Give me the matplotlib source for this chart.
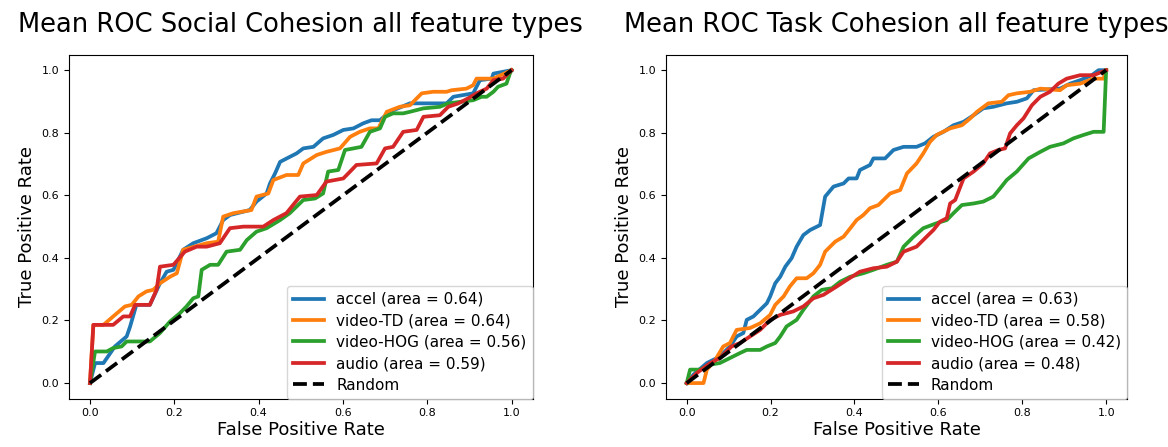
import matplotlib
matplotlib.use("Agg")
import matplotlib.pyplot as plt

# ROC points (fpr, tpr)
social_accel_fpr = [0, 0.012, 0.032, 0.059, 0.087, 0.095, 0.11, 0.142, 0.166, 0.182, 0.198, 0.221, 0.245, 0.277, 0.3, 0.316, 0.332, 0.379, 0.395, 0.419, 0.427, 0.439, 0.451, 0.474, 0.49, 0.506, 0.53, 0.553, 0.577, 0.601, 0.625, 0.648, 0.668, 0.688, 0.711, 0.759, 0.846, 0.862, 0.909, 0.925, 0.953, 0.957, 1.0]
social_accel_tpr = [0, 0.064, 0.064, 0.117, 0.149, 0.18, 0.25, 0.25, 0.319, 0.356, 0.362, 0.426, 0.447, 0.463, 0.479, 0.521, 0.537, 0.553, 0.58, 0.606, 0.638, 0.67, 0.707, 0.723, 0.734, 0.75, 0.755, 0.782, 0.793, 0.809, 0.814, 0.83, 0.84, 0.84, 0.867, 0.894, 0.894, 0.915, 0.926, 0.968, 0.973, 0.989, 1.0]

social_td_fpr = [0, 0.008, 0.032, 0.055, 0.083, 0.099, 0.115, 0.134, 0.15, 0.166, 0.19, 0.206, 0.221, 0.277, 0.304, 0.316, 0.34, 0.383, 0.395, 0.423, 0.435, 0.466, 0.494, 0.506, 0.538, 0.561, 0.593, 0.617, 0.64, 0.664, 0.684, 0.704, 0.735, 0.759, 0.787, 0.814, 0.846, 0.858, 0.893, 0.909, 0.917, 0.957, 1.0]
social_td_tpr = [0, 0.186, 0.186, 0.213, 0.245, 0.25, 0.277, 0.293, 0.298, 0.319, 0.34, 0.351, 0.426, 0.447, 0.452, 0.532, 0.543, 0.553, 0.596, 0.606, 0.649, 0.665, 0.665, 0.702, 0.729, 0.739, 0.75, 0.787, 0.803, 0.814, 0.814, 0.867, 0.883, 0.888, 0.926, 0.931, 0.931, 0.936, 0.941, 0.952, 0.973, 0.973, 1.0]

social_hog_fpr = [0, 0.012, 0.04, 0.055, 0.075, 0.087, 0.142, 0.166, 0.19, 0.213, 0.229, 0.245, 0.257, 0.265, 0.285, 0.304, 0.324, 0.356, 0.372, 0.395, 0.419, 0.451, 0.474, 0.506, 0.534, 0.553, 0.565, 0.589, 0.605, 0.625, 0.644, 0.664, 0.688, 0.7, 0.719, 0.743, 0.759, 0.791, 0.83, 0.85, 0.909, 0.929, 0.941, 0.957, 0.968, 0.988, 0.996, 1.0]
social_hog_tpr = [0, 0.101, 0.101, 0.112, 0.117, 0.133, 0.133, 0.16, 0.197, 0.223, 0.245, 0.271, 0.277, 0.362, 0.378, 0.378, 0.42, 0.426, 0.457, 0.484, 0.495, 0.521, 0.543, 0.585, 0.59, 0.606, 0.676, 0.681, 0.745, 0.75, 0.755, 0.803, 0.814, 0.851, 0.862, 0.862, 0.867, 0.878, 0.883, 0.894, 0.904, 0.915, 0.915, 0.931, 0.947, 0.957, 0.989, 1.0]

social_audio_fpr = [0, 0.008, 0.055, 0.079, 0.095, 0.107, 0.142, 0.158, 0.166, 0.198, 0.225, 0.253, 0.277, 0.308, 0.332, 0.364, 0.411, 0.435, 0.466, 0.498, 0.538, 0.561, 0.601, 0.617, 0.632, 0.68, 0.7, 0.719, 0.743, 0.775, 0.791, 0.83, 0.85, 0.874, 0.897, 0.917, 0.941, 0.957, 0.98, 1.0]
social_audio_tpr = [0, 0.186, 0.186, 0.213, 0.213, 0.25, 0.25, 0.298, 0.372, 0.378, 0.42, 0.436, 0.436, 0.447, 0.495, 0.5, 0.5, 0.521, 0.543, 0.596, 0.601, 0.644, 0.654, 0.676, 0.697, 0.702, 0.75, 0.755, 0.803, 0.809, 0.851, 0.856, 0.883, 0.894, 0.91, 0.926, 0.941, 0.968, 0.973, 1.0]

task_accel_fpr = [0, 0.016, 0.048, 0.079, 0.103, 0.119, 0.135, 0.143, 0.159, 0.175, 0.191, 0.199, 0.211, 0.223, 0.235, 0.25, 0.262, 0.278, 0.294, 0.318, 0.33, 0.35, 0.374, 0.386, 0.405, 0.413, 0.437, 0.445, 0.473, 0.493, 0.517, 0.548, 0.568, 0.588, 0.612, 0.636, 0.66, 0.684, 0.707, 0.731, 0.763, 0.787, 0.811, 0.827, 0.89, 0.914, 0.938, 0.966, 0.982, 1.0]
task_accel_tpr = [0, 0.027, 0.064, 0.085, 0.117, 0.149, 0.16, 0.202, 0.213, 0.234, 0.255, 0.277, 0.319, 0.34, 0.372, 0.399, 0.436, 0.473, 0.489, 0.505, 0.596, 0.628, 0.638, 0.654, 0.654, 0.681, 0.697, 0.718, 0.718, 0.745, 0.755, 0.755, 0.766, 0.787, 0.803, 0.824, 0.835, 0.856, 0.878, 0.883, 0.894, 0.899, 0.91, 0.936, 0.941, 0.957, 0.968, 0.984, 1.0, 1.0]

task_td_fpr = [0, 0.04, 0.048, 0.068, 0.087, 0.103, 0.119, 0.151, 0.175, 0.199, 0.211, 0.231, 0.246, 0.262, 0.286, 0.302, 0.318, 0.33, 0.354, 0.374, 0.39, 0.405, 0.421, 0.437, 0.457, 0.469, 0.485, 0.509, 0.525, 0.548, 0.564, 0.58, 0.596, 0.628, 0.656, 0.676, 0.692, 0.719, 0.751, 0.767, 0.787, 0.819, 0.843, 0.89, 0.906, 0.938, 0.97, 0.994, 1.0]
task_td_tpr = [0, 0, 0.043, 0.074, 0.117, 0.128, 0.17, 0.176, 0.191, 0.218, 0.25, 0.277, 0.309, 0.335, 0.335, 0.351, 0.378, 0.42, 0.452, 0.468, 0.495, 0.521, 0.537, 0.559, 0.569, 0.585, 0.606, 0.617, 0.67, 0.702, 0.734, 0.771, 0.793, 0.814, 0.824, 0.846, 0.867, 0.894, 0.899, 0.92, 0.926, 0.931, 0.941, 0.936, 0.952, 0.957, 0.973, 0.973, 1.0]

task_hog_fpr = [0, 0.008, 0.032, 0.056, 0.079, 0.103, 0.127, 0.143, 0.175, 0.191, 0.211, 0.223, 0.238, 0.262, 0.278, 0.302, 0.322, 0.346, 0.366, 0.39, 0.421, 0.445, 0.477, 0.501, 0.517, 0.541, 0.564, 0.596, 0.62, 0.636, 0.656, 0.684, 0.707, 0.731, 0.747, 0.763, 0.787, 0.815, 0.843, 0.866, 0.898, 0.922, 0.946, 0.97, 0.994, 1.0]
task_hog_tpr = [0, 0.043, 0.043, 0.059, 0.064, 0.08, 0.096, 0.106, 0.106, 0.117, 0.128, 0.149, 0.181, 0.202, 0.234, 0.277, 0.298, 0.303, 0.324, 0.34, 0.351, 0.362, 0.378, 0.388, 0.436, 0.468, 0.495, 0.511, 0.521, 0.543, 0.569, 0.574, 0.58, 0.596, 0.622, 0.649, 0.676, 0.718, 0.739, 0.755, 0.766, 0.782, 0.793, 0.803, 0.803, 1.0]

task_audio_fpr = [0, 0.024, 0.056, 0.079, 0.107, 0.127, 0.151, 0.175, 0.199, 0.223, 0.254, 0.278, 0.302, 0.326, 0.358, 0.382, 0.413, 0.445, 0.477, 0.501, 0.517, 0.548, 0.572, 0.588, 0.604, 0.62, 0.628, 0.64, 0.66, 0.684, 0.707, 0.723, 0.743, 0.759, 0.771, 0.787, 0.803, 0.823, 0.843, 0.866, 0.886, 0.906, 0.938, 0.97, 1.0]
task_audio_tpr = [0, 0.032, 0.064, 0.08, 0.117, 0.128, 0.149, 0.17, 0.202, 0.218, 0.229, 0.245, 0.271, 0.282, 0.309, 0.33, 0.356, 0.367, 0.372, 0.388, 0.42, 0.436, 0.468, 0.489, 0.516, 0.527, 0.574, 0.585, 0.654, 0.676, 0.702, 0.734, 0.745, 0.75, 0.798, 0.824, 0.846, 0.888, 0.915, 0.931, 0.957, 0.973, 0.984, 0.984, 1.0]

names = ["accel", "video-TD", "video-HOG", "audio"]
social_auc = [0.64, 0.64, 0.56, 0.59]
task_auc = [0.63, 0.58, 0.42, 0.48]
colors = ["#1f77b4", "#ff7f0e", "#2ca02c", "#d62728"]

social = [(social_accel_fpr, social_accel_tpr), (social_td_fpr, social_td_tpr),
          (social_hog_fpr, social_hog_tpr), (social_audio_fpr, social_audio_tpr)]
task = [(task_accel_fpr, task_accel_tpr), (task_td_fpr, task_td_tpr),
        (task_hog_fpr, task_hog_tpr), (task_audio_fpr, task_audio_tpr)]

fig = plt.figure(figsize=(11.68, 4.47), dpi=100)
ax1 = fig.add_axes([0.059, 0.108, 0.397, 0.770])
ax2 = fig.add_axes([0.570, 0.108, 0.395, 0.770])

panels = [(ax1, social, social_auc, "Mean ROC Social Cohesion all feature types"),
          (ax2, task, task_auc, "Mean ROC Task Cohesion all feature types")]

for ax, curves, aucs, title in panels:
    for (fpr, tpr), name, auc, c in zip(curves, names, aucs, colors):
        ax.plot(fpr, tpr, color=c, lw=2.7, label="%s (area = %.2f)" % (name, auc))
    ax.plot([0, 1], [0, 1], "k--", lw=2.7, label="Random")
    ax.set_xlim(-0.05, 1.05)
    ax.set_ylim(-0.05, 1.05)
    ax.set_title(title, fontsize=18.5, pad=16)
    ax.set_xlabel("False Positive Rate", fontsize=13, labelpad=2)
    ax.set_ylabel("True Positive Rate", fontsize=13)
    ax.tick_params(labelsize=8)
    ax.legend(loc="lower right", fontsize=11, borderaxespad=0, labelspacing=0.42)

fig.savefig("out.png", dpi=100)
